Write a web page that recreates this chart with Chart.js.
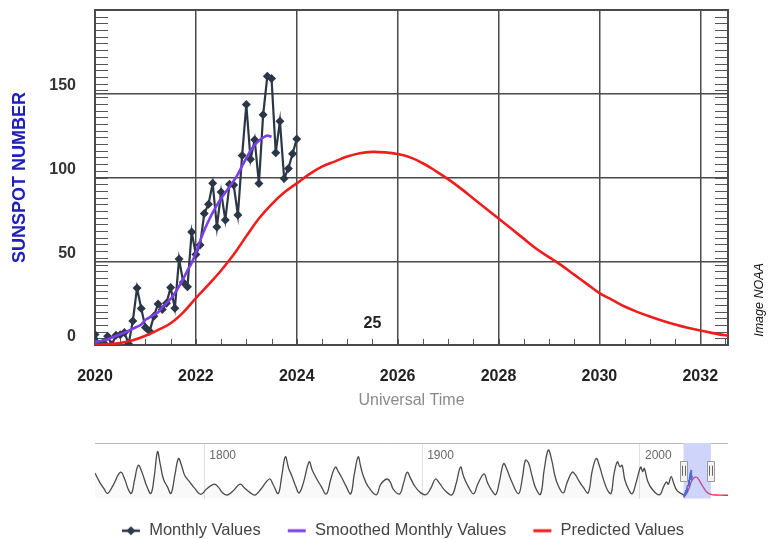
<!DOCTYPE html>
<html>
<head>
<meta charset="utf-8">
<script src="https://cdn.jsdelivr.net/npm/chart.js@4.4.1/dist/chart.umd.min.js"></script>
<style>
html,body{margin:0;padding:0;background:#fff;overflow:hidden;width:776px;height:539px;}
.wrap{position:absolute;left:0;}
</style>
</head>
<body>
<div class="wrap" style="top:0;width:776px;height:420px"><canvas id="main" width="776" height="420"></canvas></div>
<div class="wrap" style="top:430px;width:776px;height:121px"><canvas id="nav" width="776" height="121"></canvas></div>
<script>
// ---------- DATA ----------
const monthlyStart = 2020; // January 2020, one value per month
const monthlyValues = [
  6.2, 0.2, 1.5, 5.2, 0.2, 5.8, 6.1, 7.5, 0.6, 14.4, 34.0, 21.8,
  10.4, 8.2, 17.2, 24.5, 21.2, 25.0, 34.3, 22.0, 51.3, 37.4, 34.8, 67.5,
  54.0, 59.7, 78.5, 84.1, 96.5, 70.5, 91.4, 74.6, 96.0, 95.5, 77.6, 113.1,
  143.6, 110.9, 122.5, 96.4, 137.4, 160.5, 159.1, 114.8, 133.6, 99.4, 105.4, 114.2,
  123.0
];
const smoothedValues = [
  1.8, 2.2, 2.8, 3.5, 4.4, 5.4, 6.4, 7.4, 8.5, 9.7, 10.9, 12.3,
  15.0, 16.5, 18.0, 19.5, 22.5, 25.0, 27.5, 31.0, 35.0, 39.5, 44.5, 49.0,
  55.0, 62.0, 68.5, 74.0, 79.0, 83.5, 87.5, 91.0, 94.5, 98.0, 102.0, 107.0,
  111.5, 116.0, 119.5, 122.0, 123.8, 125.0, 124.3
];
const predictedYears = [
  2020, 2020.25, 2020.5, 2020.75, 2021, 2021.25, 2021.5, 2021.75,
  2022, 2022.25, 2022.5, 2022.75, 2023, 2023.25, 2023.5, 2023.75,
  2024, 2024.25, 2024.5, 2024.75, 2025, 2025.25, 2025.5, 2025.75,
  2026, 2026.25, 2026.5, 2026.75, 2027, 2027.25, 2027.5, 2027.75,
  2028, 2028.25, 2028.5, 2028.75, 2029, 2029.25, 2029.5, 2029.75,
  2030, 2030.25, 2030.5, 2030.75, 2031, 2031.25, 2031.5, 2031.75,
  2032, 2032.25, 2032.5, 2033.5, 2035, 2037, 2040.4
];
const predictedValues = [
  0.2, 0.5, 1.2, 2.8, 5.5, 9.0, 13.0, 19.5,
  28.0, 36.0, 44.5, 54.0, 65.0, 75.5, 84.0, 91.0,
  96.5, 102.0, 106.5, 109.5, 112.5, 114.5, 115.3, 115.0,
  114.0, 112.0, 108.5, 104.0, 99.0, 93.5, 87.5, 81.5,
  75.5, 69.5, 63.5, 57.5, 52.5, 47.5, 42.0, 36.5,
  31.0, 27.0, 23.0, 19.8, 17.0, 14.5, 12.3, 10.3,
  8.6, 7.1, 5.8, 3.5, 2.0, 1.0, 0.5
];
const xTickYears = [2020, 2022, 2024, 2026, 2028, 2030, 2032];
const yTickValues = [0, 50, 100, 150, 200];
const cycleLabel = '25';
const cycleLabelAt = [2025.5, 13];

// navigator (historical sunspot record)
const navYears = [1749.8,1752,1754,1755.5,1758,1761.5,1763.5,1765,1766.5,1768,1769.7,1771.5,1773.5,1775.5,1777,1778.5,1779.7,1781.2,1783,1784.7,1786.5,1788.1,1789.5,1791,1793.4,1795.5,1798.3,1801,1804.5,1806.5,1808.5,1810.6,1813,1816.4,1818.5,1821,1823.3,1826,1829.9,1831.5,1833.9,1835.5,1837.2,1838.7,1840.1,1842,1843.5,1845.5,1848.1,1849.5,1851.6,1853.5,1856,1858,1860.1,1861.5,1863,1865,1867.2,1868.8,1870.6,1871.8,1872.9,1875,1878.9,1881,1883.9,1885.5,1886.7,1889.6,1891.5,1893.1,1894.6,1896.5,1899,1901.7,1904,1906.1,1908,1910.5,1913.6,1915.5,1917.6,1919,1921,1923.6,1925.5,1928.4,1930,1932,1933.8,1935.5,1937.4,1939,1941,1944.2,1946,1947.4,1948.8,1950.5,1952,1954.3,1956,1957.9,1959.5,1961,1962.5,1964.8,1966.5,1968.9,1970.3,1972,1974,1976.2,1978,1979.9,1981.5,1983,1985,1986.7,1988,1989.6,1990.8,1991.8,1993,1994.7,1996.4,1998.2,2000.3,2001.2,2002,2003.5,2005.5,2008.9,2011,2012.2,2013,2014.3,2015.5,2017,2019.9];
const navValues = [140,82,40,12,60,146,100,40,12,100,189,140,60,12,120,275,200,103,55,12,130,232,190,125,82,45,6,40,71,50,15,2,25,71,45,17,2,40,103,70,12,120,243,170,125,55,15,80,211,160,103,60,8,100,178,150,114,60,10,130,243,180,125,60,3,70,103,80,39,8,80,146,110,60,20,4,45,103,75,30,3,70,178,120,60,10,70,135,80,30,5,90,200,160,90,10,110,221,205,120,50,6,160,286,220,120,60,15,80,146,130,90,50,15,150,232,180,110,35,12,130,211,180,190,100,40,10,80,178,150,170,90,40,3,60,85,70,118,75,30,3];
const navTickYears = [1800, 1900, 2000];
const legendLabels = ['Monthly Values', 'Smoothed Monthly Values', 'Predicted Values'];

// ---------- STYLE ----------
const FONT = '"Liberation Sans", Arial, Helvetica, sans-serif';
Chart.defaults.font.family = FONT;
const C_MONTHLY = '#2b3646';
const C_SMOOTH = '#7b3fe8';
const C_PRED = '#f01d1d';
const xMin = 2020, xMax = 2032.55;

const monthlyPts = monthlyValues.map((v, i) => ({x: monthlyStart + i / 12, y: v}));
const smoothPts = smoothedValues.map((v, i) => ({x: monthlyStart + i / 12, y: v}));
const predPts = predictedYears.map((x, i) => ({x, y: predictedValues[i]}));
const navPts = navYears.map((x, i) => ({x, y: navValues[i]}));

function noEdgePadding(s) { s.paddingTop = 0; s.paddingBottom = 0; s.paddingLeft = 0; s.paddingRight = 0; }

const decor = {
  id: 'decor',
  beforeDatasetsDraw(chart) {
    const {ctx, chartArea: a, scales: {x, y}} = chart;
    ctx.save();
    ctx.strokeStyle = '#555';
    ctx.lineWidth = 1;
    ctx.beginPath();
    for (let v = 0; v <= 200; v += 4) {
      const py = Math.round(y.getPixelForValue(v)) + 0.5;
      ctx.moveTo(a.left, py); ctx.lineTo(a.left + 13, py);
      ctx.moveTo(a.right - 13, py); ctx.lineTo(a.right, py);
    }
    for (let t = 2020.5; t < xMax; t += 0.5) {
      const px = Math.round(x.getPixelForValue(t)) + 0.5;
      ctx.moveTo(px, a.bottom); ctx.lineTo(px, a.bottom - 6);
    }
    ctx.stroke();
    ctx.strokeStyle = '#4a4a4a';
    ctx.lineWidth = 2;
    ctx.strokeRect(a.left, a.top, a.right - a.left, a.bottom - a.top);
    ctx.restore();
  },
  afterDraw(chart) {
    const {ctx, chartArea: a, scales: {x, y}} = chart;
    ctx.save();
    ctx.fillStyle = '#222';
    ctx.font = 'bold 16px ' + FONT;
    ctx.textAlign = 'center';
    ctx.textBaseline = 'middle';
    ctx.fillText(cycleLabel, x.getPixelForValue(cycleLabelAt[0]), y.getPixelForValue(cycleLabelAt[1]));
    ctx.translate(a.right + 32, 300);
    ctx.rotate(-Math.PI / 2);
    ctx.fillStyle = '#111';
    ctx.font = 'italic 12.5px ' + FONT;
    ctx.fillText('Image NOAA', 0, 0);
    ctx.restore();
  }
};

new Chart(document.getElementById('main'), {
  type: 'line',
  data: {
    datasets: [
      {label: legendLabels[0], data: monthlyPts, borderColor: C_MONTHLY, backgroundColor: C_MONTHLY,
       borderWidth: 2.2, pointStyle: 'rectRot', pointRadius: 4.5, pointBorderWidth: 0, order: 2, tension: 0},
      {label: legendLabels[1], data: smoothPts, borderColor: C_SMOOTH, borderWidth: 2.6, pointRadius: 0,
       order: 0, tension: 0.4},
      {label: legendLabels[2], data: predPts, borderColor: C_PRED, borderWidth: 2.6, pointRadius: 0,
       order: 1, tension: 0.4, clip: 0}
    ]
  },
  options: {
    responsive: false,
    animation: false,
    layout: {padding: {top: 10, right: 48, bottom: 0, left: 0}},
    plugins: {legend: {display: false}, tooltip: {enabled: false}},
    scales: {
      x: {
        type: 'linear', min: xMin, max: xMax,
        afterBuildTicks: s => { s.ticks = xTickYears.map(v => ({value: v})); },
        grid: {color: '#4a4a4a', lineWidth: 1.5, drawTicks: false},
        border: {display: false},
        ticks: {font: {size: 16, weight: 'bold'}, color: '#222', padding: 22, maxRotation: 0, autoSkip: false,
                callback: v => String(v)},
        title: {display: true, text: 'Universal Time', color: '#8a8a8a', font: {size: 16}, padding: {top: 0, bottom: 10}},
        afterFit: s => { s.height = 75; noEdgePadding(s); }
      },
      y: {
        type: 'linear', min: 0, max: 200,
        afterBuildTicks: s => { s.ticks = yTickValues.map(v => ({value: v})); },
        grid: {color: '#4a4a4a', lineWidth: 1.5, drawTicks: false},
        border: {display: false},
        ticks: {font: {size: 16, weight: 'bold'}, color: '#333', padding: 19, labelOffset: -8,
                callback: v => (v === 200 ? '' : String(v))},
        title: {display: true, text: 'SUNSPOT NUMBER', color: '#1f20b8', font: {size: 18, weight: 'bold'}, padding: {top: 9, bottom: 0}},
        afterFit: s => { s.width = 95; noEdgePadding(s); }
      }
    }
  },
  plugins: [decor]
});

// ---------- NAVIGATOR + LEGEND ----------
function makeIcon(color, width, diamond) {
  const c = document.createElement('canvas');
  c.width = 20; c.height = 12;
  const g = c.getContext('2d');
  g.strokeStyle = color; g.lineWidth = width;
  g.beginPath(); g.moveTo(1, 6); g.lineTo(19, 6); g.stroke();
  if (diamond) {
    g.fillStyle = color;
    g.beginPath(); g.moveTo(10, 1.5); g.lineTo(14.5, 6); g.lineTo(10, 10.5); g.lineTo(5.5, 6); g.closePath(); g.fill();
  }
  return c;
}
const icons = [makeIcon(C_MONTHLY, 2.5, true), makeIcon(C_SMOOTH, 3, false), makeIcon(C_PRED, 3, false)];

const navDecor = {
  id: 'navDecor',
  beforeDatasetsDraw(chart) {
    const {ctx, chartArea: a, scales: {x}} = chart;
    ctx.save();
    ctx.fillStyle = '#666';
    ctx.font = '12px ' + FONT;
    ctx.textBaseline = 'middle';
    navTickYears.forEach(t => ctx.fillText(String(t), x.getPixelForValue(t) + 5, a.top + 13));
    ctx.restore();
  },
  afterDatasetsDraw(chart) {
    const {ctx, chartArea: a, scales: {x}} = chart;
    const s0 = x.getPixelForValue(xMin), s1 = x.getPixelForValue(xMax);
    ctx.save();
    ctx.fillStyle = 'rgba(110,125,240,0.33)';
    ctx.fillRect(s0, a.top, s1 - s0, a.bottom - a.top);
    ctx.strokeStyle = '#b8b8b8';
    ctx.lineWidth = 1;
    ctx.beginPath();
    ctx.moveTo(a.left, a.top + 0.5); ctx.lineTo(s0, a.top + 0.5);
    ctx.moveTo(s1, a.top + 0.5); ctx.lineTo(a.right, a.top + 0.5);
    ctx.stroke();
    const hy = (a.top + a.bottom) / 2;
    [s0, s1].forEach(hx => {
      ctx.fillStyle = '#f2f2f2';
      ctx.strokeStyle = '#999';
      ctx.beginPath();
      ctx.rect(Math.round(hx - 3.5) + 0.5, Math.round(hy - 10) + 0.5, 7, 20);
      ctx.fill(); ctx.stroke();
      ctx.strokeStyle = '#666';
      ctx.beginPath();
      ctx.moveTo(Math.round(hx) - 1.5, hy - 5); ctx.lineTo(Math.round(hx) - 1.5, hy + 5);
      ctx.moveTo(Math.round(hx) + 1.5, hy - 5); ctx.lineTo(Math.round(hx) + 1.5, hy + 5);
      ctx.stroke();
    });
    ctx.restore();
  }
};

new Chart(document.getElementById('nav'), {
  type: 'line',
  data: {
    datasets: [
      {label: 'history', data: navPts, borderColor: '#4b4b4b', borderWidth: 1.3, pointRadius: 0,
       fill: 'start', backgroundColor: 'rgba(60,60,60,0.03)', tension: 0.4},
      {label: 'monthly', data: monthlyPts, borderColor: '#3b63c4', borderWidth: 1.2, pointRadius: 0},
      {label: 'predicted', data: predPts, borderColor: '#e8324a', borderWidth: 1.3, pointRadius: 0, tension: 0.4}
    ]
  },
  options: {
    responsive: false,
    animation: false,
    layout: {padding: {top: 13, left: 77, right: 48, bottom: 0}},
    plugins: {
      tooltip: {enabled: false},
      legend: {
        display: true, position: 'bottom',
        labels: {
          usePointStyle: true, pointStyleWidth: 20, padding: 26,
          font: {size: 16.5}, color: '#444',
          generateLabels: () => legendLabels.map((t, i) => ({
            text: t, pointStyle: icons[i], fillStyle: 'transparent', strokeStyle: 'transparent',
            lineWidth: 0, hidden: false, datasetIndex: i, fontColor: '#444'
          }))
        },
        onClick: () => {}
      }
    },
    scales: {
      x: {
        type: 'linear', min: 1749.8, max: 2040.4,
        afterBuildTicks: s => { s.ticks = navTickYears.map(v => ({value: v})); },
        grid: {color: '#e2e2e2', lineWidth: 1, drawTicks: false},
        border: {display: false},
        ticks: {display: false},
        afterFit: s => { s.height = -2; noEdgePadding(s); }
      },
      y: {
        type: 'linear', min: -20, max: 330,
        grid: {display: false},
        border: {display: false},
        ticks: {display: false},
        afterFit: s => { s.width = 18; noEdgePadding(s); }
      }
    }
  },
  plugins: [navDecor]
});
</script>
</body>
</html>
